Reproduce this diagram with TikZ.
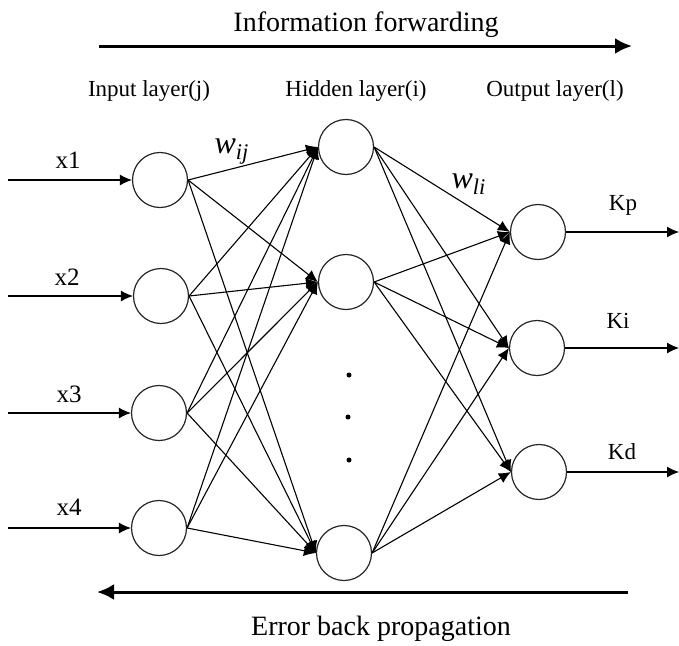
\documentclass[tikz,border=0pt]{standalone}
\usepackage{fontspec}
\setmainfont{Liberation Serif}
\usetikzlibrary{arrows.meta}

\begin{document}
\begin{tikzpicture}[
	x=1pt, y=-1pt,
	neuron/.style={
		circle, draw=black!85, line width=1.2pt,
		minimum size=55pt, inner sep=0pt
	},
	dot/.style={circle, fill=black, inner sep=0pt, minimum size=5pt},
	line/.style={draw, line width=1.1pt, -{Latex[length=12pt,width=11pt]}},
	flow/.style={draw, line width=3pt, -{Latex[length=17pt,width=16pt]}},
	title/.style={anchor=base, font=\fontsize{28}{32}\selectfont},
	layer/.style={anchor=base, font=\fontsize{23}{27}\selectfont},
	signal/.style={anchor=base, font=\fontsize{25}{29}\selectfont},
	weight/.style={anchor=base west, font=\fontsize{32}{36}\selectfont\itshape},
	]
	\useasboundingbox (0,0) rectangle (679,645);

	% neurons
	\node [neuron] (in1) at (160,180) {};
	\node [neuron] (in2) at (161,296) {};
	\node [neuron] (in3) at (159,413) {};
	\node [neuron] (in4) at (159,528) {};
	\node [neuron] (hid1) at (346,147) {};
	\node [neuron] (hid2) at (346,282) {};
	\node [neuron] (hid3) at (344,553) {};
	\node [neuron] (out1) at (538,232) {};
	\node [neuron] (out2) at (537,348) {};
	\node [neuron] (out3) at (539,472) {};
	\node [dot] (d1) at (349,375) {};
	\node [dot] (d2) at (348,417) {};
	\node [dot] (d3) at (349,460) {};

	% free ends
	\coordinate (src1) at (8,180);
	\coordinate (src2) at (8,296);
	\coordinate (src3) at (8,413);
	\coordinate (src4) at (8,528);
	\coordinate (dst1) at (679,232);
	\coordinate (dst2) at (679,348);
	\coordinate (dst3) at (679,472);
	\coordinate (fwd0) at (99,46);
	\coordinate (fwd1) at (632,46);
	\coordinate (back0) at (628,592);
	\coordinate (back1) at (97,592);

	% texts
	\node [title] (fwd) at (366,31) {Information forwarding};
	\node [title] (back) at (381,635) {Error back propagation};
	\node [layer] (linput) at (149,96) {Input layer(j)};
	\node [layer] (lhidden) at (356,96) {Hidden layer(i)};
	\node [layer] (loutput) at (555,96) {Output layer(l)};
	\node [signal] (x1) at (68,168) {x1};
	\node [signal] (x2) at (67,285) {x2};
	\node [signal] (x3) at (69,402) {x3};
	\node [signal] (x4) at (69,515) {x4};
	\node [layer] (kp) at (623,210) {Kp};
	\node [layer] (ki) at (618,328) {Ki};
	\node [layer] (kd) at (622,459) {Kd};
	\node [weight] (wij) at (211,153) {w\textsubscript{ij}};
	\node [weight] (wli) at (448,188) {w\textsubscript{li}};

	\path [flow] (fwd0) -- (fwd1);
	\path [flow] (back0) -- (back1);

	\path [line] (src1) -- (in1.west);
	\path [line] (src2) -- (in2.west);
	\path [line] (src3) -- (in3.west);
	\path [line] (src4) -- (in4.west);

	\path [line] (in1.east) -- (hid1.west);
	\path [line] (in1.east) -- (hid2.west);
	\path [line] (in1.east) -- (hid3.west);
	\path [line] (in2.east) -- (hid1.west);
	\path [line] (in2.east) -- (hid2.west);
	\path [line] (in2.east) -- (hid3.west);
	\path [line] (in3.east) -- (hid1.west);
	\path [line] (in3.east) -- (hid2.west);
	\path [line] (in3.east) -- (hid3.west);
	\path [line] (in4.east) -- (hid1.west);
	\path [line] (in4.east) -- (hid2.west);
	\path [line] (in4.east) -- (hid3.west);

	\path [line] (hid1.east) -- (out1.west);
	\path [line] (hid1.east) -- (out2.west);
	\path [line] (hid1.east) -- (out3.west);
	\path [line] (hid2.east) -- (out1.west);
	\path [line] (hid2.east) -- (out2.west);
	\path [line] (hid2.east) -- (out3.west);
	\path [line] (hid3.east) -- (out1.west);
	\path [line] (hid3.east) -- (out2.west);
	\path [line] (hid3.east) -- (out3.west);

	\path [line] (out1.east) -- (dst1);
	\path [line] (out2.east) -- (dst2);
	\path [line] (out3.east) -- (dst3);
\end{tikzpicture}
\end{document}
